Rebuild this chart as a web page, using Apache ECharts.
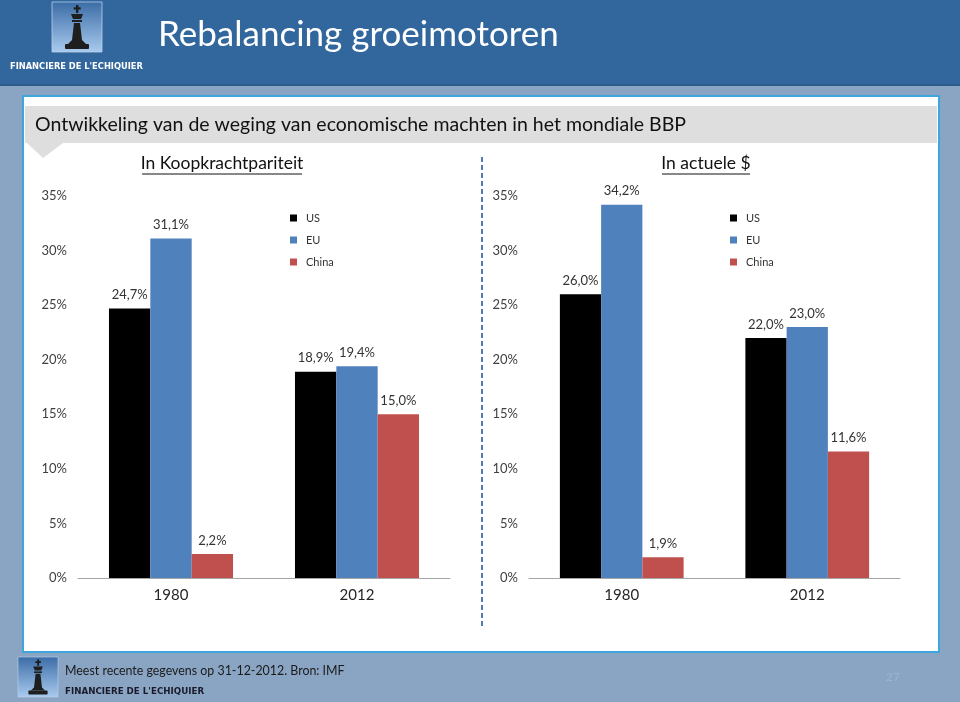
<!DOCTYPE html>
<html>
<head>
<meta charset="utf-8">
<script src="https://cdn.jsdelivr.net/npm/echarts@6/dist/echarts.min.js"></script>
<style>html,body{margin:0;padding:0;background:#8aa5c4;}#c{width:960px;height:702px;}</style>
</head>
<body>
<div id="c"></div>
<script>
const categories = ['1980', '2012'];
const seriesNames = ['US', 'EU', 'China'];
const pppUS = [24.7, 18.9];
const pppEU = [31.1, 19.4];
const pppChina = [2.2, 15.0];
const usdUS = [26.0, 22.0];
const usdEU = [34.2, 23.0];
const usdChina = [1.9, 11.6];
const yTicks = [0, 5, 10, 15, 20, 25, 30, 35];

const colors = {US: '#000000', EU: '#4f81bd', China: '#c0504d'};
const FONT = 'Lato, "Open Sans", sans-serif';

function fmt(p) { return p.value.toFixed(1).replace('.', ',') + '%'; }

function logo(x, y, s) {
  return {
    type: 'group', x: x, y: y, scaleX: s, scaleY: s,
    children: [
      {type: 'rect', shape: {x: 0, y: 0, width: 50, height: 50},
       style: {fill: {type: 'linear', x: 0, y: 0, x2: 0, y2: 1, colorStops: [{offset: 0, color: '#3b6ca6'}, {offset: 1, color: '#a9cbef'}]}, stroke: '#b8d0ea', lineWidth: 0.8}},
      {type: 'rect', shape: {x: 24, y: 3, width: 2.4, height: 8}, style: {fill: '#1e1e1e'}},
      {type: 'rect', shape: {x: 21.7, y: 5.3, width: 7, height: 2.2}, style: {fill: '#1e1e1e'}},
      {type: 'polygon', shape: {points: [[19, 12], [31, 12], [29, 17], [21, 17]]}, style: {fill: '#1e1e1e'}},
      {type: 'rect', shape: {x: 20, y: 18, width: 10, height: 2}, style: {fill: '#1e1e1e'}},
      {type: 'polygon', shape: {points: [[22, 21], [28, 21], [30, 38], [34, 42], [16, 42], [20, 38]]}, style: {fill: '#1e1e1e'}},
      {type: 'rect', shape: {x: 13, y: 42, width: 24, height: 5, r: 1}, style: {fill: '#1e1e1e'}}
    ]
  };
}

const chart = echarts.init(document.getElementById('c'), null, {renderer: 'canvas'});

function yAxis(idx) {
  return {
    type: 'value', gridIndex: idx, min: 0, max: 35, interval: 5,
    axisLine: {show: false}, axisTick: {show: false}, splitLine: {show: false},
    axisLabel: {formatter: '{value}%', color: '#404040', fontSize: 13, fontFamily: FONT, margin: 11}
  };
}
function xAxis(idx) {
  return {
    type: 'category', gridIndex: idx, data: categories,
    axisLine: {lineStyle: {color: '#a6a6a6', width: 1}}, axisTick: {show: false},
    axisLabel: {color: '#262626', fontSize: 15, fontFamily: FONT, margin: 10}
  };
}
function bar(name, data, idx) {
  return {
    type: 'bar', name: name, data: data, xAxisIndex: idx, yAxisIndex: idx,
    barGap: '0%', barCategoryGap: '33.3%',
    itemStyle: {color: colors[name]},
    label: {show: true, position: 'top', distance: 7, formatter: fmt, color: '#333333', fontSize: 13, fontFamily: FONT},
    emphasis: {disabled: true}
  };
}

function legend(left) {
  return {
    orient: 'vertical', left: left, top: 207, icon: 'rect', itemWidth: 7, itemHeight: 7, itemGap: 10,
    data: seriesNames, selectedMode: false,
    textStyle: {color: '#333', fontSize: 11, fontFamily: FONT, lineHeight: 12, padding: [0, 0, 0, 4]}
  };
}

const option = {
  backgroundColor: '#8aa5c4',
  animation: false,
  grid: [
    {left: 78, top: 196, width: 372, height: 382},
    {left: 529, top: 196, width: 371, height: 382}
  ],
  xAxis: [xAxis(0), xAxis(1)],
  yAxis: [yAxis(0), yAxis(1)],
  legend: [legend(285), legend(725)],
  series: [
    bar('US', pppUS, 0), bar('EU', pppEU, 0), bar('China', pppChina, 0),
    bar('US', usdUS, 1), bar('EU', usdEU, 1), bar('China', usdChina, 1)
  ],
  graphic: {elements: [
    {type: 'rect', z: -10, shape: {x: 0, y: 0, width: 960, height: 84}, style: {fill: '#32679d'}},
    {type: 'rect', z: -10, shape: {x: 0, y: 84, width: 960, height: 2}, style: {fill: '#2c5a8a'}},
    logo(52, 2, 1),
    {type: 'text', x: 10, y: 63, style: {text: "FINANCIERE DE L'ECHIQUIER", fill: '#ffffff', font: 'bold 8.3px "DejaVu Sans", sans-serif'}},
    {type: 'text', x: 158, y: 17, style: {text: 'Rebalancing groeimotoren', fill: '#ffffff', font: '35px ' + FONT}},
    {type: 'rect', z: -9, shape: {x: 23, y: 96, width: 916, height: 556}, style: {fill: '#ffffff', stroke: '#3ea6dc', lineWidth: 2}},
    {type: 'rect', z: -8, shape: {x: 25, y: 106, width: 912, height: 37}, style: {fill: '#dedede'}},
    {type: 'polygon', z: -8, shape: {points: [[27, 143], [63, 143], [43, 158]]}, style: {fill: '#dedede'}},
    {type: 'text', x: 35, y: 115, style: {text: 'Ontwikkeling van de weging van economische machten in het mondiale BBP', fill: '#111111', font: '19.5px ' + FONT}},
    {type: 'text', x: 222, y: 154, style: {text: 'In Koopkrachtpariteit', fill: '#111111', font: '17.5px ' + FONT, align: 'center'}},
    {type: 'line', shape: {x1: 142, y1: 174, x2: 302, y2: 174}, style: {stroke: '#111111', lineWidth: 1}},
    {type: 'text', x: 706, y: 154, style: {text: 'In actuele $', fill: '#111111', font: '17.5px ' + FONT, align: 'center'}},
    {type: 'line', shape: {x1: 662, y1: 174, x2: 750, y2: 174}, style: {stroke: '#111111', lineWidth: 1}},
    {type: 'line', shape: {x1: 482, y1: 157, x2: 482, y2: 628}, style: {stroke: '#4f7db3', lineWidth: 2, lineDash: [5, 3]}},
    logo(18, 657, 0.8),
    {type: 'text', x: 65, y: 665, style: {text: 'Meest recente gegevens op 31-12-2012. Bron: IMF', fill: '#1a1a1a', font: '12.4px ' + FONT}},
    {type: 'text', x: 65, y: 687, style: {text: "FINANCIERE DE L'ECHIQUIER", fill: '#1a1a2a', font: 'bold 8.7px "DejaVu Sans", sans-serif'}},
    {type: 'text', x: 893, y: 671, style: {text: '27', fill: '#9fb3cc', font: '12px ' + FONT, align: 'center'}}
  ]}
};
chart.setOption(option);
</script>
</body>
</html>
